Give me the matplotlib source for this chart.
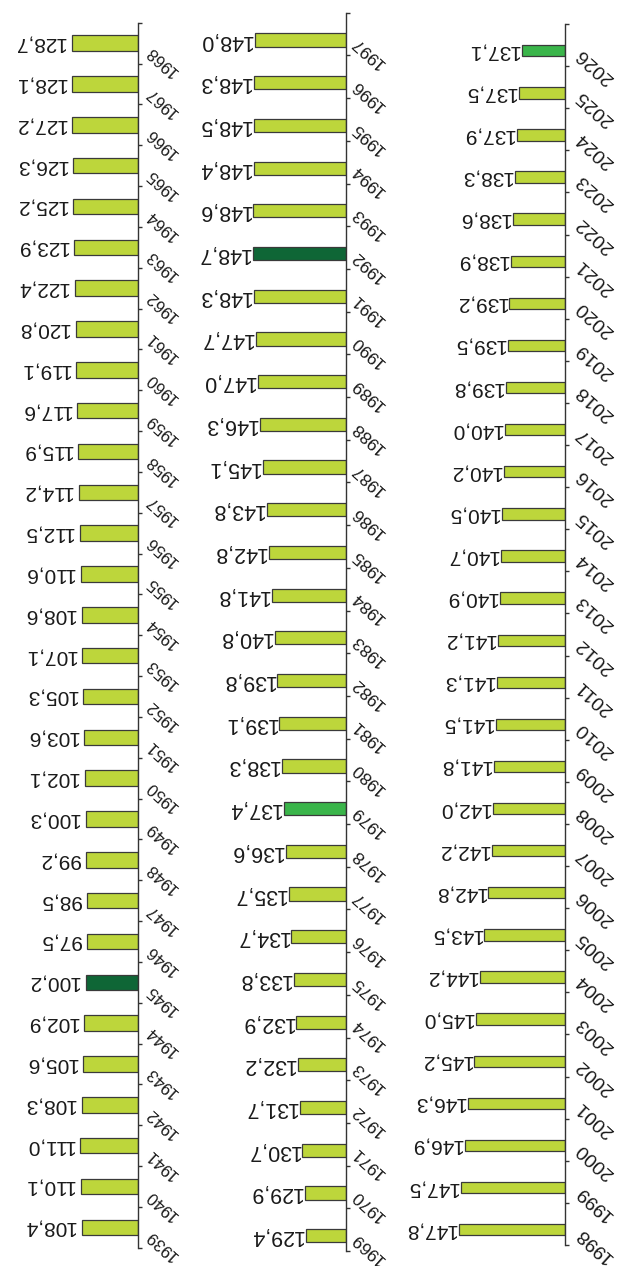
import numpy as np
import matplotlib
matplotlib.use("Agg")
import matplotlib.pyplot as plt

plt.rcParams['font.family'] = ['Liberation Sans', 'DejaVu Sans']

# ---------------- data ----------------
years_a = list(range(1939, 1969))
values_a = [108.4, 110.1, 111.0, 108.3, 105.6, 102.9, 100.2, 97.5, 98.5, 99.2,
            100.3, 102.1, 103.6, 105.3, 107.1, 108.6, 110.6, 112.5, 114.2, 115.9,
            117.6, 119.1, 120.8, 122.4, 123.9, 125.2, 126.3, 127.2, 128.1, 128.7]

years_b = list(range(1969, 1998))
values_b = [129.4, 129.9, 130.7, 131.7, 132.2, 132.9, 133.8, 134.7, 135.7, 136.6,
            137.4, 138.3, 139.1, 139.8, 140.8, 141.8, 142.8, 143.8, 145.1, 146.3,
            147.0, 147.7, 148.3, 148.7, 148.6, 148.4, 148.5, 148.3, 148.0]

years_c = list(range(1998, 2027))
values_c = [147.8, 147.5, 146.9, 146.3, 145.2, 145.0, 144.2, 143.5, 142.8, 142.2,
            142.0, 141.8, 141.5, 141.3, 141.2, 140.9, 140.7, 140.5, 140.2, 140.0,
            139.8, 139.5, 139.2, 138.9, 138.6, 138.3, 137.9, 137.5, 137.1]

dark_years = [1945, 1992]
mid_years = [1979, 2026]

# ---------------- styles ----------------
W, H = 621, 1266
C_LIGHT = '#BDD63B'
C_DARK = '#0F6636'
C_MID = '#3AB54A'
EDGE = '#3a3a3a'
TXT = '#1a1a1a'

fig = plt.figure(figsize=(W / 100, H / 100), dpi=100)
fig.patch.set_facecolor('white')

cols = [
    (years_a, values_a, dict(left=0, spine=138, top=22.7, bottom=1247.7, base=-6.6, scale=0.49,
                             hfrac=0.38, shift=0.0, gap=6, vfs=15, yfs=12, ydx=5)),
    (years_b, values_b, dict(left=150, spine=346, top=12.7, bottom=1251, base=114.8, scale=2.74,
                             hfrac=0.31, shift=0.14, gap=2.5, vfs=15.5, yfs=12.5, ydx=3)),
    (years_c, values_c, dict(left=370, spine=564.7, top=24, bottom=1245, base=129.7, scale=5.82,
                             hfrac=0.27, shift=0.135, gap=2.5, vfs=15, yfs=14, ydx=8)),
]

for years, values, st in cols:
    n = len(years)
    wpx = st['spine'] - st['left']
    hpx = st['bottom'] - st['top']
    ax = fig.add_axes([st['left'] / W, 1 - st['bottom'] / H, wpx / W, hpx / H])
    ax.set_facecolor('none')
    xmax = st['base'] + wpx / st['scale']
    ax.set_xlim(xmax, st['base'])
    ax.set_ylim(0, n)

    vals = np.array(values)
    idx = np.arange(n)
    centers = idx + 0.5 - st['shift']
    colors = [C_DARK if y in dark_years else (C_MID if y in mid_years else C_LIGHT) for y in years]
    ax.barh(centers, vals - st['base'], left=st['base'], height=st['hfrac'],
            color=colors, edgecolor=EDGE, linewidth=0.9, zorder=2)

    for s in ['top', 'left', 'bottom']:
        ax.spines[s].set_visible(False)
    ax.spines['right'].set_color('#333333')
    ax.spines['right'].set_linewidth(1.0)
    ax.set_xticks([])
    ax.yaxis.tick_right()
    ax.set_yticks(np.arange(n + 1))
    ax.tick_params(axis='y', direction='out', length=3, width=1.0, color='#333333',
                   labelright=False, labelleft=False)

    for i, (y, v) in enumerate(zip(years, vals)):
        ax.annotate(f"{v:.1f}".replace('.', ','), xy=(v, centers[i]),
                    xytext=(-st['gap'] * 0.72, 0), textcoords='offset points',
                    rotation=180, ha='right', va='center', fontsize=st['vfs'],
                    color=TXT, annotation_clip=False)
        ax.annotate(str(y), xy=(st['base'], i + 0.5),
                    xytext=(st['ydx'] * 0.72, 0), textcoords='offset points',
                    rotation=138, ha='left', va='top', fontsize=st['yfs'],
                    color=TXT, annotation_clip=False)

fig.savefig('out.png', dpi=100, facecolor='white')
